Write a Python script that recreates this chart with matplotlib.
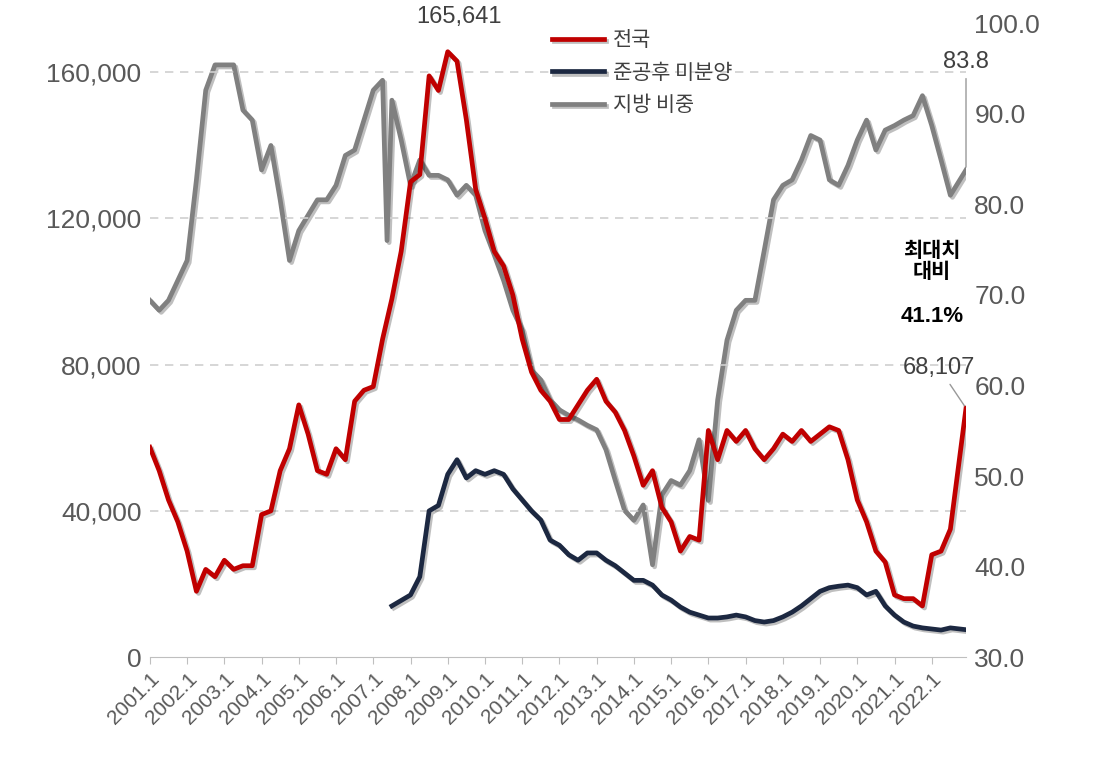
import matplotlib
matplotlib.use("Agg")
import matplotlib.pyplot as plt
import matplotlib.patheffects as pe
from matplotlib import font_manager as fm

avail = {f.name for f in fm.fontManager.ttflist}
NUM = "Liberation Sans Narrow" if "Liberation Sans Narrow" in avail else "Liberation Sans"
KR = "Noto Sans CJK KR"

# quarterly points (decimal years)
q = [y + k * 0.25 for y in range(2001, 2023) for k in range(4)]

red_x = q[:-1] + [2022.92]
red = [57.4, 51, 43, 37, 29, 18, 24, 22, 26.5, 24, 25, 25, 39, 40, 51, 57,
       69, 61, 51, 50, 57, 54, 70, 73, 74, 87, 98, 111, 130, 132, 159, 155,
       165.6, 163, 147, 128, 120, 111, 107, 99, 87, 78, 73, 70, 65, 65, 69, 73,
       76, 70, 67, 62, 55, 47, 51, 41, 37, 29, 33, 32, 62, 54, 62, 59,
       62, 57, 54, 57, 61, 59, 62, 59, 61, 63, 62, 54, 43, 37, 29, 26,
       17, 16, 16, 14, 28, 29, 35, 68.107]

navy_x = q[26:-1] + [2022.92]
navy = [14, 15.5, 17, 22, 40, 41.5, 50, 54, 49, 51, 50, 51, 50, 46,
        43, 40, 37.5, 32, 30.6, 28, 26.5, 28.5, 28.5, 26.5, 25, 23,
        21, 21, 19.7, 17, 15.6, 13.7, 12.3, 11.5, 10.7, 10.7, 11, 11.5,
        11, 10, 9.6, 10, 11, 12.3, 14, 16, 18, 19, 19.4, 19.7,
        19, 17, 18, 14, 11.5, 9.6, 8.5, 8, 7.7, 7.4, 8, 7.5]

gray_x = q[:26] + [2007.37] + q[26:-1] + [2022.92]
gray = [69.4, 68.3, 69.4, 71.6, 73.8, 82.7, 92.6, 95.4, 95.4, 95.4, 90.4, 89.3,
        83.8, 86.5, 80.5, 73.8, 77.1, 78.8, 80.5, 80.5, 82.1, 85.4, 86, 89.3,
        92.6, 93.7, 76, 91.5, 87.1, 82.1, 84.9, 83.2, 83.2, 82.7, 81, 82.1, 81,
        77.1, 74.4, 71.6, 68.3, 66.1, 61.7, 60.6, 58.4, 57.3, 56.7, 56.2, 55.6,
        55.1, 52.9, 49.5, 46.2, 45.1, 46.8, 40.2, 47.9, 49.5, 49, 50.6, 54,
        47.3, 58.4, 65, 68.3, 69.4, 69.4, 74.9, 80.5, 82.1, 82.7, 84.9, 87.6,
        87.1, 82.7, 82.1, 84.3, 87.1, 89.3, 86, 88.2, 88.7, 89.3, 89.8, 92,
        88.7, 84.9, 81, 83.8]

years = list(range(2001, 2023))
labels = [f"{y}.1" for y in years]

fig = plt.figure(figsize=(10.94, 7.74), dpi=100)
ax = fig.add_axes([0.137, 0.151, 0.746, 0.819])
ax2 = ax.twinx()
ax.set_zorder(ax2.get_zorder() + 1); ax.patch.set_visible(False)

sh = [pe.SimpleLineShadow(offset=(1.5, -1.5), alpha=0.25), pe.Normal()]
ax2.plot(gray_x, gray, color="#808080", lw=3.4, label="지방 비중", path_effects=sh)
ax.plot(red_x, [v * 1000 for v in red], color="#C00000", lw=3.4, label="전국", path_effects=sh)
ax.plot(navy_x, [v * 1000 for v in navy], color="#1C2841", lw=3.4, label="준공후 미분양", path_effects=sh)

ax.set_xlim(2001, 2022.92)
ax.set_ylim(0, 173400)
ax2.set_ylim(30, 100)
ax.set_yticks(range(0, 160001, 40000))
ax.set_yticklabels([f"{v:,}" for v in range(0, 160001, 40000)])
ax2.set_yticks(range(30, 101, 10))
ax2.set_yticklabels([f"{v:.1f}" for v in range(30, 101, 10)])
for a in (ax, ax2):
    for s in a.spines.values():
        s.set_visible(False)
    a.tick_params(axis="y", length=0, labelsize=19, labelcolor="#595959", pad=6)
    for t in a.get_yticklabels():
        t.set_fontfamily(NUM)
ax.spines["bottom"].set_visible(True)
ax.spines["bottom"].set_color("#BFBFBF")
ax.set_xticks(years)
ax.set_xticklabels(labels, rotation=45, ha="right", rotation_mode="anchor",
                   fontsize=15, color="#595959", fontfamily=NUM)
ax.tick_params(axis="x", length=5, color="#BFBFBF")
for v in range(40000, 160001, 40000):
    ax.axhline(v, color="#D0D0D0", lw=1.2, ls=(0, (5, 4)), zorder=0)

ax.annotate("165,641", (2009.3, 165641), xytext=(2009.3, 172000), ha="center",
            va="bottom", fontsize=17, color="#404040", fontfamily=NUM, annotation_clip=False)
ax2.annotate("83.8", (2022.92, 83.8), xytext=(2022.92, 94.5), ha="center", va="bottom",
             fontsize=17, color="#404040", fontfamily=NUM,
             arrowprops=dict(arrowstyle="-", color="#999999", lw=1), annotation_clip=False)
ax.annotate("68,107", (2022.92, 68107), xytext=(2022.2, 76000), ha="center", va="bottom",
            fontsize=17, color="#404040", fontfamily=NUM,
            arrowprops=dict(arrowstyle="-", color="#999999", lw=1), annotation_clip=False)
ax.text(2022.0, 114000, "최대치\n대비", ha="center", va="top", fontsize=15,
        fontweight="bold", fontfamily=KR, linespacing=0.95)
ax.text(2022.0, 96000, "41.1%", ha="center", va="top", fontsize=16,
        fontweight="bold", fontfamily=NUM)

h1, l1 = ax.get_legend_handles_labels()
h2, l2 = ax2.get_legend_handles_labels()
leg = ax.legend(h1 + h2, l1 + l2, loc="upper left", bbox_to_anchor=(0.47, 1.02),
                frameon=False, prop={"family": KR, "size": 15}, handlelength=2.5,
                labelspacing=0.5, handletextpad=0.4)
for t in leg.get_texts():
    t.set_color("#404040")

fig.savefig("out.png", dpi=100)
